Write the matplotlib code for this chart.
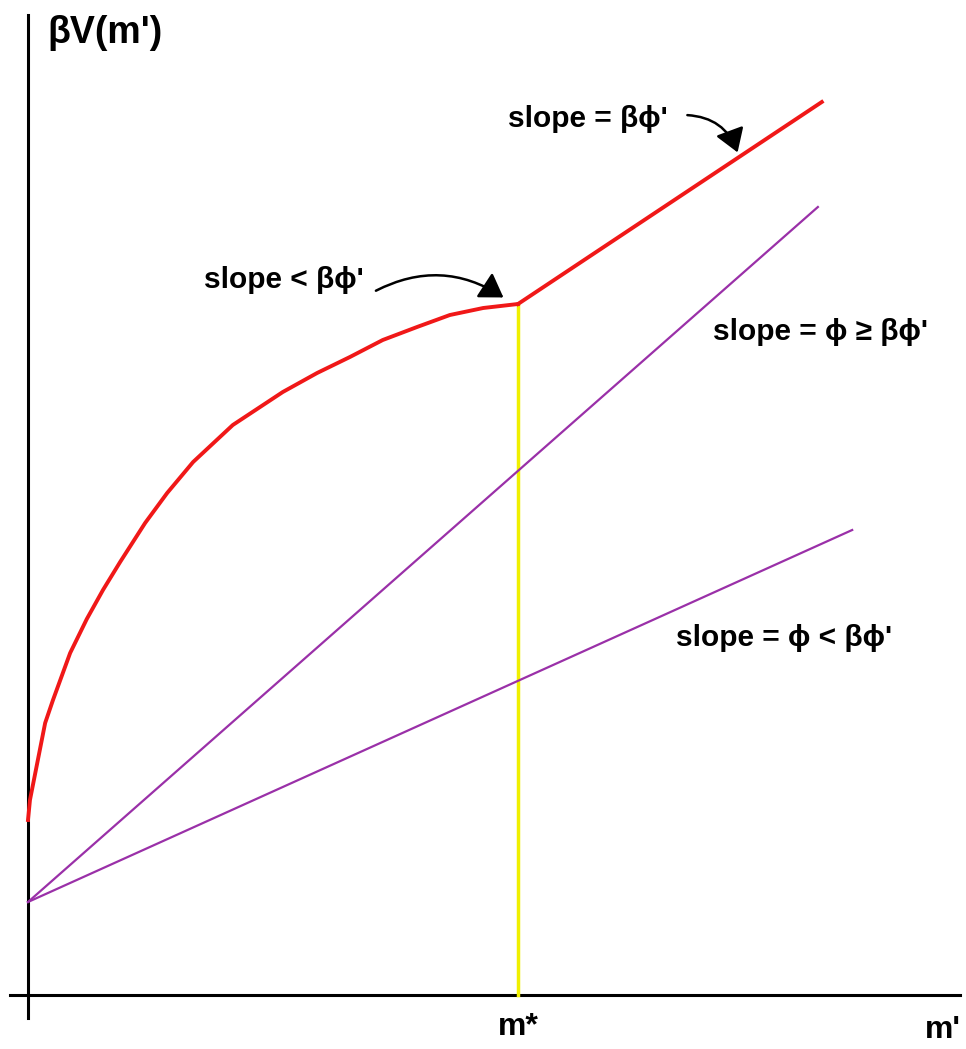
import numpy as np
import matplotlib.pyplot as plt
from matplotlib.patches import FancyArrowPatch

plt.rcParams['font.family'] = ['Liberation Sans', 'DejaVu Sans']

# valores (m* = 1)
m_star = 1.0
curva_x = [0.0, 0.004, 0.035, 0.051, 0.086, 0.12, 0.153, 0.188, 0.239, 0.284,
           0.337, 0.418, 0.52, 0.59, 0.657, 0.724, 0.794, 0.861, 0.929, 1.0]
curva_y = [1.75, 1.95, 2.72, 2.95, 3.42, 3.76, 4.05, 4.33, 4.72, 5.02,
           5.33, 5.70, 6.03, 6.22, 6.38, 6.55, 6.68, 6.80, 6.87, 6.91]
reta_sup_x = [1.0, 1.62]
reta_sup_y = [6.91, 8.93]
linha1_x = [0.0, 1.612]
linha1_y = [0.93, 7.88]
linha2_x = [0.0, 1.682]
linha2_y = [0.93, 4.65]

fig = plt.figure(figsize=(9.66, 10.49), dpi=100)
ax = fig.add_axes([0, 0, 1, 1])
ax.set_xlim(-28 / 490, (966 - 28) / 490)
ax.set_ylim(-0.54, 9.95)
ax.axis('off')

# eixos
ax.plot([0, 0], [-0.23, 9.8], color='black', lw=2.2, zorder=1)
ax.plot([-0.037, 1.902], [0, 0], color='black', lw=2.2, zorder=1)

# linha vertical em m*
ax.plot([m_star, m_star], [0, curva_y[-1]], color='#f0f000', lw=2.5, zorder=2)

# retas
roxo = '#9a30a8'
ax.plot(linha1_x, linha1_y, color=roxo, lw=1.6, zorder=3)
ax.plot(linha2_x, linha2_y, color=roxo, lw=1.6, zorder=3)

# curva vermelha
ax.plot(curva_x, curva_y, color='#f01818', lw=2.8, zorder=4, solid_joinstyle='round')
ax.plot(reta_sup_x, reta_sup_y, color='#f01818', lw=2.8, zorder=4)

# textos
fs = 21.5
ax.text(0.04, 9.62, "βV(m')", fontsize=27, fontweight='bold', va='center', ha='left')
ax.text(0.98, 8.76, "slope = βϕ'", fontsize=fs, fontweight='bold', va='center', ha='left')
ax.text(0.36, 7.15, "slope < βϕ'", fontsize=fs, fontweight='bold', va='center', ha='left')
ax.text(1.398, 6.63, "slope = ϕ ≥ βϕ'", fontsize=fs, fontweight='bold', va='center', ha='left')
ax.text(1.323, 3.57, "slope = ϕ < βϕ'", fontsize=fs, fontweight='bold', va='center', ha='left')
ax.text(1.0, -0.32, "m*", fontsize=23, fontweight='bold', va='center', ha='center')
ax.text(1.83, -0.35, "m'", fontsize=23, fontweight='bold', va='center', ha='left')

# setas curvas
seta1 = FancyArrowPatch((1.34, 8.80), (1.45, 8.40), connectionstyle='arc3,rad=-0.35',
                        arrowstyle='-|>,head_length=14,head_width=9', color='black', lw=1.8)
ax.add_patch(seta1)
seta2 = FancyArrowPatch((0.705, 7.03), (0.975, 6.96), connectionstyle='arc3,rad=-0.3',
                        arrowstyle='-|>,head_length=14,head_width=9', color='black', lw=1.8)
ax.add_patch(seta2)

fig.savefig('out.png', dpi=100)
